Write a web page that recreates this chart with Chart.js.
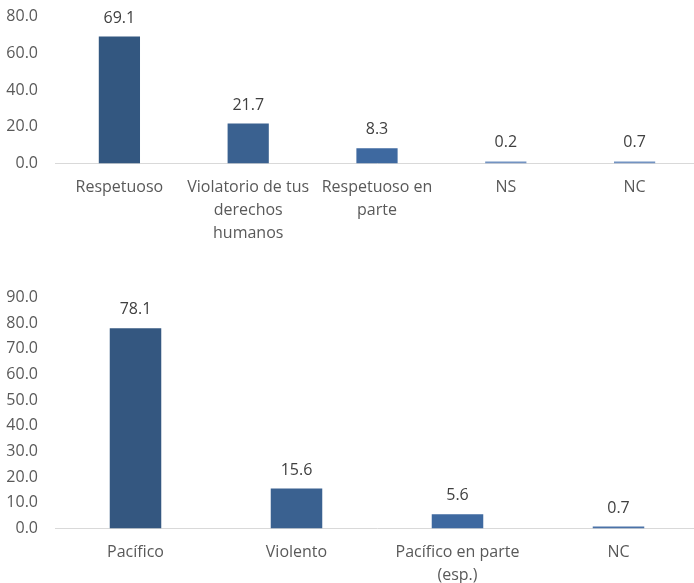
<!DOCTYPE html>
<html>
<head>
<meta charset="utf-8">
<script src="https://cdn.jsdelivr.net/npm/chart.js@4.4.1/dist/chart.umd.min.js"></script>
<style>
  html, body { margin: 0; padding: 0; background: #fff; overflow: hidden; }
  body { width: 694px; height: 583px; position: relative; overflow: hidden; }
  .box { position: absolute; left: 0; width: 699px; }
  #topBox { top: -10px; height: 267px; }
  #botBox { top: 271px; height: 328px; }
</style>
</head>
<body>
<div class="box" id="topBox"><canvas id="trato"></canvas></div>
<div class="box" id="botBox"><canvas id="marcha"></canvas></div>
<script>
// ─── DATA ────────────────────────────────────────────
const tratoLabels = ['Respetuoso', ['Violatorio de tus', 'derechos', 'humanos'], ['Respetuoso en', 'parte'], 'NS', 'NC'];
const tratoValues = [69.1, 21.7, 8.3, 0.2, 0.7];
const tratoTicks  = [0, 20, 40, 60, 80];

const marchaLabels = ['Pacífico', 'Violento', ['Pacífico en parte', '(esp.)'], 'NC'];
const marchaValues = [78.1, 15.6, 5.6, 0.7];
const marchaTicks  = [0, 10, 20, 30, 40, 50, 60, 70, 80, 90];

const tratoColors  = ['#335780', '#3a6190', '#3e69a0', '#7393c2', '#7393c2'];
const marchaColors = ['#345780', '#3a6190', '#3e69a0', '#4a72a8'];

const FONT = "'Open Sans', sans-serif";

// ─── VALUE LABELS ────────────────────────────────────
const valueLabels = {
  id: 'valueLabels',
  afterDatasetsDraw(chart) {
    const ctx = chart.ctx;
    const meta = chart.getDatasetMeta(0);
    const data = chart.data.datasets[0].data;
    ctx.save();
    ctx.font = '16px ' + FONT;
    ctx.fillStyle = '#404040';
    ctx.textAlign = 'center';
    ctx.textBaseline = 'middle';
    meta.data.forEach((bar, i) => {
      ctx.fillText(data[i].toFixed(1), bar.x, bar.y - 18.5);
    });
    ctx.restore();
  }
};

function makeChart(id, labels, values, colors, ticks) {
  const max = ticks[ticks.length - 1];
  const step = ticks[1] - ticks[0];
  return new Chart(document.getElementById(id), {
    type: 'bar',
    data: {
      labels: labels,
      datasets: [{
        data: values,
        backgroundColor: colors,
        borderWidth: 0,
        barPercentage: 0.32,
        categoryPercentage: 1,
        minBarLength: 2,
      }],
    },
    options: {
      responsive: true,
      maintainAspectRatio: false,
      animation: false,
      layout: { padding: { top: 8, right: 0, left: 0, bottom: 0 } },
      plugins: { legend: { display: false }, tooltip: { enabled: false } },
      scales: {
        x: {
          grid: { display: false, drawTicks: false },
          border: { display: true, color: '#d9d9d9', width: 1 },
          ticks: {
            color: '#595959',
            padding: 12,
            maxRotation: 0,
            autoSkip: false,
            font: { size: 16, family: FONT, lineHeight: 1.45 },
          },
        },
        y: {
          min: 0,
          max: max,
          afterFit(scale) { scale.width = 55; },
          grid: { display: false, drawTicks: false },
          border: { display: false },
          ticks: {
            stepSize: step,
            color: '#595959',
            padding: 17,
            font: { size: 16, family: FONT },
            callback: (v) => v.toFixed(1),
          },
        },
      },
    },
    plugins: [valueLabels],
  });
}

makeChart('trato', tratoLabels, tratoValues, tratoColors, tratoTicks);
makeChart('marcha', marchaLabels, marchaValues, marchaColors, marchaTicks);
</script>
</body>
</html>
